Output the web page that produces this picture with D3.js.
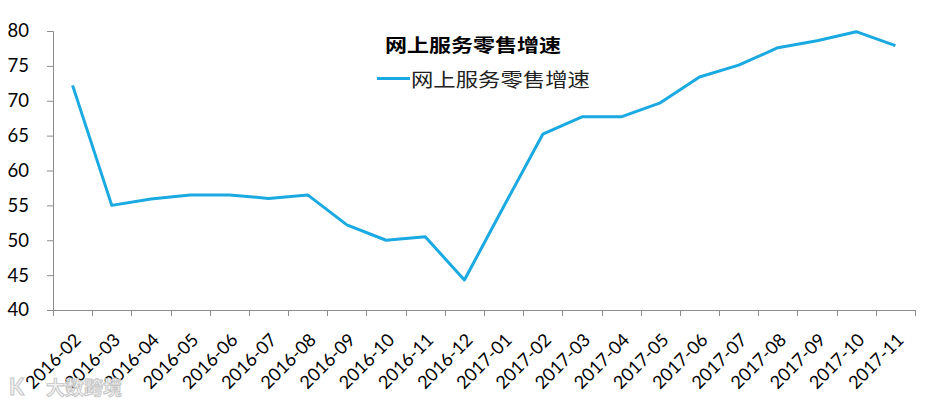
<!DOCTYPE html>
<html><head><meta charset="utf-8">
<script src="https://cdn.jsdelivr.net/npm/d3@7"></script>
<style>
body{margin:0;background:#fff;}
svg{display:block;}
</style></head>
<body><svg id="c" width="930" height="403"></svg>
<script>
const categories = ["2016-02","2016-03","2016-04","2016-05","2016-06","2016-07","2016-08","2016-09","2016-10","2016-11","2016-12","2017-01","2017-02","2017-03","2017-04","2017-05","2017-06","2017-07","2017-08","2017-09","2017-10","2017-11"];
const growth = [72.2,55.0,55.9,56.5,56.5,56.0,56.5,52.2,50.0,50.5,44.3,54.8,65.2,67.7,67.7,69.7,73.4,75.1,77.6,78.6,79.9,77.9];
const yTicks = [40,45,50,55,60,65,70,75,80];
const seriesName = "网上服务零售增速";
const titleText = "网上服务零售增速";
const watermark = "大数跨境";

(function () {
const svg = d3.select("#c");
const mLeft = 53, mRight = 915, mTop = 31, mBottom = 310;
const x = d3.scaleBand().domain(categories).range([mLeft, mRight]).padding(0);
const y = d3.scaleLinear().domain([40, 80]).range([mBottom, mTop]);
const axisColor = "#8c8c8c";
const lineColor = "#1aa9e1";
const numFont = "Lato, 'Open Sans', sans-serif";
const cjk = "'Noto Sans CJK SC', sans-serif";

// Y axis
const ya = svg.append("g").attr("transform", `translate(${mLeft},0)`)
  .call(d3.axisLeft(y).tickValues(yTicks).tickSize(6).tickPadding(18).tickFormat(d3.format("d")));
ya.select(".domain").attr("stroke", axisColor);
ya.selectAll(".tick line").attr("stroke", axisColor);
ya.selectAll(".tick text").attr("fill", "#000").style("font-family", numFont).style("font-size", "18.5px");

// X axis: tick marks at band boundaries
const bounds = categories.map(c => x(c)).concat([mRight]);
const xa = svg.append("g");
xa.append("line").attr("x1", mLeft).attr("x2", mRight).attr("y1", mBottom + 0.5).attr("y2", mBottom + 0.5).attr("stroke", axisColor);
xa.selectAll("line.t").data(bounds).join("line").attr("class", "t")
  .attr("x1", d => Math.round(d) + 0.5).attr("x2", d => Math.round(d) + 0.5)
  .attr("y1", mBottom).attr("y2", mBottom + 6).attr("stroke", axisColor);
xa.selectAll("text").data(categories).join("text")
  .attr("transform", d => `translate(${x(d) + x.bandwidth() / 2 + 9.5},${mBottom + 31}) rotate(-45)`)
  .attr("text-anchor", "end")
  .style("font-family", numFont).style("font-size", "18px").attr("fill", "#000")
  .text(d => d);

// Line
const line = d3.line().x((d, i) => x(categories[i]) + x.bandwidth() / 2).y(d => y(d));
svg.append("path").datum(growth).attr("d", line).attr("fill", "none")
  .attr("stroke", lineColor).attr("stroke-width", 3).attr("stroke-linejoin", "round");

// Title
svg.append("text").attr("x", 385).attr("y", 52)
  .attr("textLength", 176).attr("lengthAdjust", "spacingAndGlyphs")
  .style("font-family", cjk).style("font-weight", "700").style("font-size", "18.5px")
  .text(titleText);

// Legend
svg.append("line").attr("x1", 377).attr("x2", 410).attr("y1", 78.5).attr("y2", 78.5)
  .attr("stroke", lineColor).attr("stroke-width", 3);
svg.append("text").attr("x", 411).attr("y", 86.5)
  .attr("textLength", 179).attr("lengthAdjust", "spacingAndGlyphs")
  .style("font-family", cjk).style("font-size", "19px").attr("fill", "#222")
  .text(seriesName);

// Watermark
svg.append("text").attr("x", 46).attr("y", 395)
  .style("font-family", cjk).style("font-weight", "700").style("font-size", "19px")
  .attr("fill", "#f2f2f2").attr("stroke", "#c4c4c4").attr("stroke-width", 0.9)
  .text(watermark);
svg.append("text").attr("x", 9).attr("y", 395)
  .style("font-family", numFont).style("font-weight", "700").style("font-size", "22px")
  .attr("fill", "#f2f2f2").attr("stroke", "#c4c4c4").attr("stroke-width", 0.9).text("K");
})();
</script></body></html>
